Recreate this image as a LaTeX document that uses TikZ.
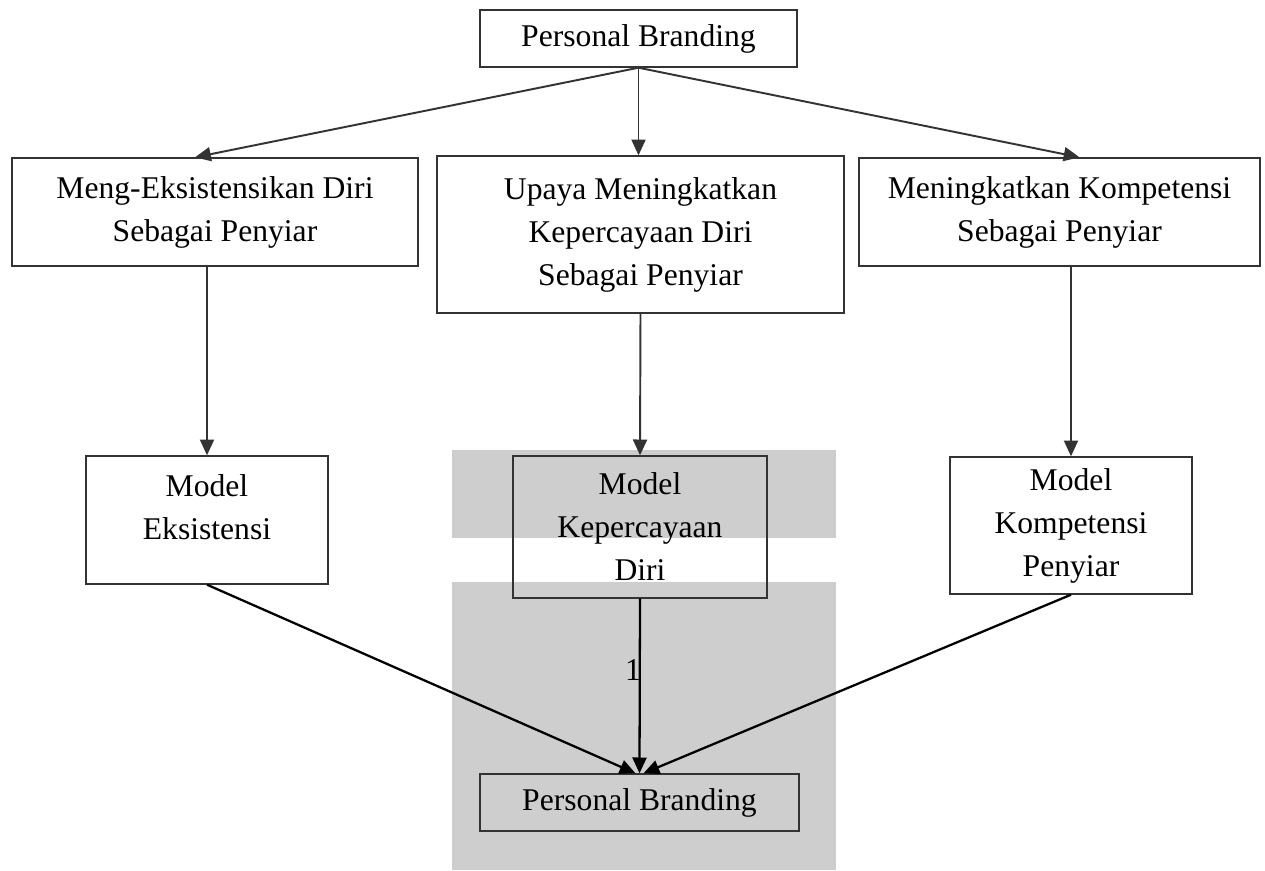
\documentclass[tikz,border=0pt]{standalone}
\usepackage{fontspec}
\setmainfont{Liberation Serif}
\usepackage{xcolor}
\usepackage{tikz}
\usetikzlibrary{arrows.meta,positioning}
\definecolor{linegray}{HTML}{333333}
\definecolor{shadegray}{HTML}{CECECE}

\begin{document}
\begin{tikzpicture}[x=0.02cm, y=-0.02cm,
            font=\fontsize{18}{24.5}\selectfont,
            box/.style={draw=linegray, line width=0.8pt, rectangle, align=center, inner sep=0pt},
            txt/.style={align=center, inner sep=0pt},
            toparrow/.style={draw=linegray, line width=1.1pt, -{Triangle[length=9pt,width=8pt]}},
            botarrow/.style={draw=black, line width=1.3pt, -{Triangle[length=9pt,width=8pt]}}
            ]
            \useasboundingbox (0,0) rectangle (1265,870);

            % Background shading
            \fill[shadegray] (452,450) rectangle (836,538);
            \fill[shadegray] (452,582) rectangle (836,870);

            % Nodes with manual coordinates
            \node[box, minimum width=6.34cm, minimum height=1.14cm] (pbtop) at (638.5,38.5) {Personal Branding};
            \node[box, minimum width=8.12cm, minimum height=2.16cm] (meng) at (215,212) {Meng-Eksistensikan Diri\\Sebagai Penyiar};
            \node[box, minimum width=8.14cm, minimum height=3.14cm] (upaya) at (640.5,234.5) {Upaya Meningkatkan\\Kepercayaan Diri\\Sebagai Penyiar};
            \node[box, minimum width=8.02cm, minimum height=2.16cm] (komp) at (1059.5,212) {Meningkatkan Kompetensi\\Sebagai Penyiar};
            \node[box, minimum width=4.84cm, minimum height=2.56cm] (mex) at (207,520) {};
            \node[txt] (mextxt) at (207,507) {Model\\Eksistensi};
            \node[box, minimum width=5.08cm, minimum height=2.84cm] (mkep) at (640,527) {Model\\Kepercayaan\\Diri};
            \node[box, minimum width=4.84cm, minimum height=2.74cm] (mkom) at (1071,525.5) {Model\\Kompetensi\\Penyiar};
            \node[box, minimum width=6.38cm, minimum height=1.14cm] (pbbot) at (639.5,802.5) {Personal Branding};
            \node[txt] (pagenum) at (633,670) {1};

            % Arrows
            \draw[toparrow] (pbtop.south) -- ([xshift=-0.4cm]meng.north);
            \draw[toparrow] (pbtop.south) -- (pbtop.south |- upaya.north);
            \draw[toparrow] (pbtop.south) -- ([xshift=0.4cm]komp.north);
            \draw[toparrow] (meng.south -| mex.north) -- (mex.north);
            \draw[toparrow] (upaya.south) -- (mkep.north);
            \draw[toparrow] (komp.south -| mkom.north) -- (mkom.north);
            \draw[botarrow] (mex.south) -- ([xshift=-0.08cm]pbbot.north);
            \draw[botarrow] (mkep.south) -- (pbbot.north);
            \draw[botarrow] (mkom.south) -- ([xshift=0.08cm]pbbot.north);
        \end{tikzpicture}
\end{document}
